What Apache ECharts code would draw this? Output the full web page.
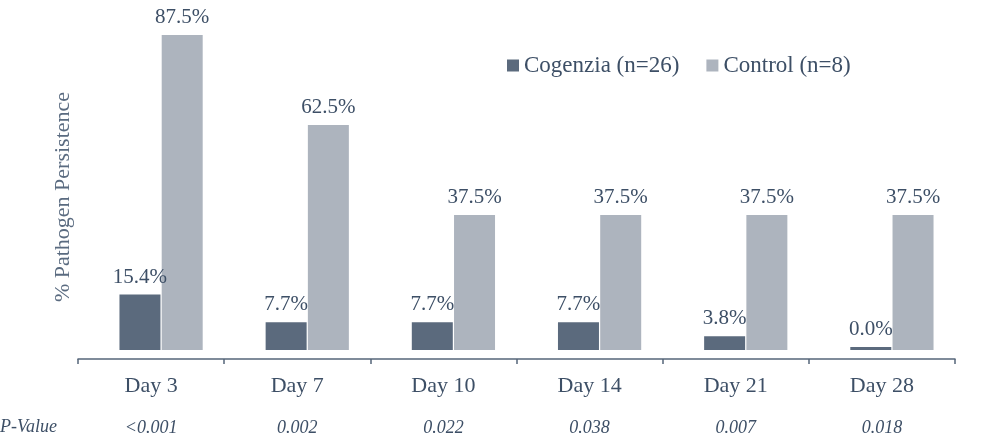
<!DOCTYPE html>
<html><head><meta charset="utf-8">
<script src="https://cdn.jsdelivr.net/npm/echarts@6/dist/echarts.min.js"></script>
<style>html,body{margin:0;padding:0;background:#fff}#c{width:1000px;height:437px}</style>
</head><body><div id="c"></div>
<script>
const categories = ['Day 3','Day 7','Day 10','Day 14','Day 21','Day 28'];
const cogenzia = [15.4, 7.7, 7.7, 7.7, 3.8, 0.0];
const control = [87.5, 62.5, 37.5, 37.5, 37.5, 37.5];
const pValues = ['<0.001','0.002','0.022','0.038','0.007','0.018'];
const seriesNames = ['Cogenzia (n=26)','Control (n=8)'];

const FONT = '"Liberation Serif", "DejaVu Serif", serif';
const TXT = '#3d4f66';
const chart = echarts.init(document.getElementById('c'));
const lbl = {show:true, position:'top', distance:7, color:TXT, fontFamily:FONT, fontSize:21,
  formatter: p => p.value.toFixed(1) + '%'};
chart.setOption({
  animation:false,
  textStyle:{fontFamily:FONT},
  title:{text:'P-Value', left:0, top:418, padding:0, textStyle:{fontFamily:FONT, fontStyle:'italic', fontWeight:'normal', fontSize:18, color:TXT}},
  legend:{data:seriesNames, left:502, top:49, icon:'rect', itemWidth:12, itemHeight:12, itemGap:27,
    textStyle:{fontFamily:FONT, fontSize:23, color:TXT}},
  grid:[
    {left:88, right:35, top:35, bottom:87},
    {left:78, right:45, top:35, bottom:78}
  ],
  xAxis:[
    {type:'category', data:categories, gridIndex:0, show:false},
    {type:'category', data:categories, gridIndex:1, position:'bottom',
      axisLine:{show:true, lineStyle:{color:'#56667a', width:1.5}},
      axisTick:{show:true, length:5, lineStyle:{color:'#56667a', width:1.5}},
      axisLabel:{margin:16, color:TXT, fontFamily:FONT, fontSize:22}},
    {type:'category', data:pValues, gridIndex:1, position:'bottom',
      axisLine:{show:false}, axisTick:{show:false},
      axisLabel:{margin:60, color:TXT, fontFamily:FONT, fontSize:18, fontStyle:'italic'}}
  ],
  yAxis:[
    {type:'value', gridIndex:0, min:0, max:87.5, show:false},
    {type:'value', gridIndex:1, min:0, max:100, axisLine:{show:false}, axisTick:{show:false},
      axisLabel:{show:false}, splitLine:{show:false},
      name:'% Pathogen Persistence', nameLocation:'middle', nameGap:4,
      nameTextStyle:{fontFamily:FONT, fontSize:22, color:'#5a6b80'}}
  ],
  series:[
    {name:seriesNames[0], type:'bar', xAxisIndex:0, yAxisIndex:0, data:cogenzia,
      barWidth:41, barGap:'3%', barMinHeight:3, itemStyle:{color:'#5b6a7d'}, label:lbl},
    {name:seriesNames[1], type:'bar', xAxisIndex:0, yAxisIndex:0, data:control,
      barWidth:41, barGap:'3%', itemStyle:{color:'#adb4be'}, label:lbl}
  ]
});
</script></body></html>
